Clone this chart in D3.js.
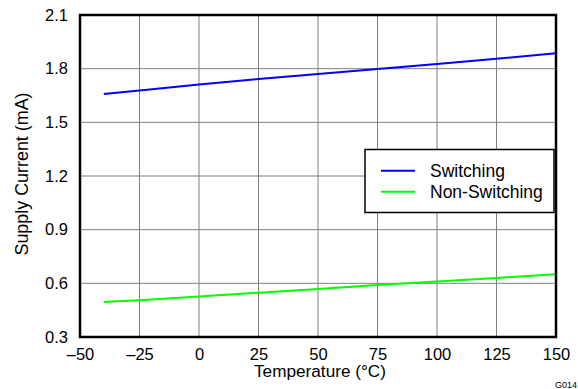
<!DOCTYPE html>
<html><head><meta charset="utf-8">
<script src="https://cdn.jsdelivr.net/npm/d3@7"></script>
<style>body{margin:0;background:#fff}svg{display:block}text{font-family:"Liberation Sans",Arial,sans-serif;fill:#000}</style>
</head><body>
<script>
const temps = [-40, -25, 0, 25, 50, 75, 100, 125, 150];
const switching = [1.658, 1.678, 1.712, 1.742, 1.77, 1.798, 1.826, 1.855, 1.886];
const nonSwitching = [0.496, 0.505, 0.526, 0.548, 0.569, 0.59, 0.61, 0.63, 0.651];
const xTicks = [-50, -25, 0, 25, 50, 75, 100, 125, 150];
const yTicks = [0.3, 0.6, 0.9, 1.2, 1.5, 1.8, 2.1];
const seriesNames = ["Switching", "Non-Switching"];
const seriesColors = ["#0000ff", "#00ff00"];

const W = 578, H = 389;
const m = {l: 80, r: 22, t: 15, b: 52};
const FONT = '"Liberation Sans",Arial,sans-serif';
const svg = d3.select("body").append("svg").attr("width", W).attr("height", H);
const x = d3.scaleLinear().domain([-50, 150]).range([m.l, W - m.r]);
const y = d3.scaleLinear().domain([0.3, 2.1]).range([H - m.b, m.t]);

// grid
svg.append("g").selectAll("line").data(xTicks.slice(1, -1)).join("line")
  .attr("x1", d => x(d)).attr("x2", d => x(d)).attr("y1", y(0.3)).attr("y2", y(2.1))
  .attr("stroke", "#808080").attr("stroke-width", 1);
svg.append("g").selectAll("line").data(yTicks.slice(1, -1)).join("line")
  .attr("y1", d => y(d)).attr("y2", d => y(d)).attr("x1", x(-50)).attr("x2", x(150))
  .attr("stroke", "#808080").attr("stroke-width", 1);

// axes labels
const xa = d3.axisBottom(x).tickValues(xTicks).tickSize(0).tickPadding(11)
  .tickFormat(d => d < 0 ? "\u2013" + Math.abs(d) : d);
const gx = svg.append("g").attr("transform", `translate(0,${y(0.3)})`).call(xa);
gx.select(".domain").remove();
gx.selectAll("text").attr("font-size", 16.5).attr("font-family", FONT);

const ya = d3.axisLeft(y).tickValues(yTicks).tickSize(0).tickPadding(12).tickFormat(d3.format(".1f"));
const gy = svg.append("g").attr("transform", `translate(${x(-50)},0)`).call(ya);
gy.select(".domain").remove();
gy.selectAll("text").attr("font-size", 16.5).attr("font-family", FONT);

// lines
const line = d3.line().x((d, i) => x(temps[i])).y(d => y(d));
[switching, nonSwitching].forEach((s, i) => {
  svg.append("path").datum(s).attr("d", line).attr("fill", "none")
    .attr("stroke", seriesColors[i]).attr("stroke-width", 2);
});

// frame
svg.append("rect").attr("x", x(-50)).attr("y", y(2.1)).attr("width", x(150) - x(-50))
  .attr("height", y(0.3) - y(2.1)).attr("fill", "none").attr("stroke", "#000").attr("stroke-width", 2.5);

// legend
const lg = svg.append("g");
lg.append("rect").attr("x", 365).attr("y", 149.5).attr("width", 189).attr("height", 63)
  .attr("fill", "#fff").attr("stroke", "#000").attr("stroke-width", 1.5);
seriesNames.forEach((n, i) => {
  const yy = 170.7 + i * 21;
  lg.append("line").attr("x1", 381).attr("x2", 415).attr("y1", yy).attr("y2", yy)
    .attr("stroke", seriesColors[i]).attr("stroke-width", 2);
  lg.append("text").attr("x", 430).attr("y", yy + 6.5).attr("font-size", 17.5).text(n);
});

// titles
svg.append("text").attr("x", 320).attr("y", 377).attr("text-anchor", "middle")
  .attr("font-size", 17.2).text("Temperature (\u00B0C)");
svg.append("text").attr("transform", `translate(28,174) rotate(-90)`)
  .attr("text-anchor", "middle").attr("font-size", 17.9).text("Supply Current (mA)");
svg.append("text").attr("x", 577).attr("y", 388).attr("text-anchor", "end")
  .attr("font-size", 9).text("G014");
</script>
</body></html>
